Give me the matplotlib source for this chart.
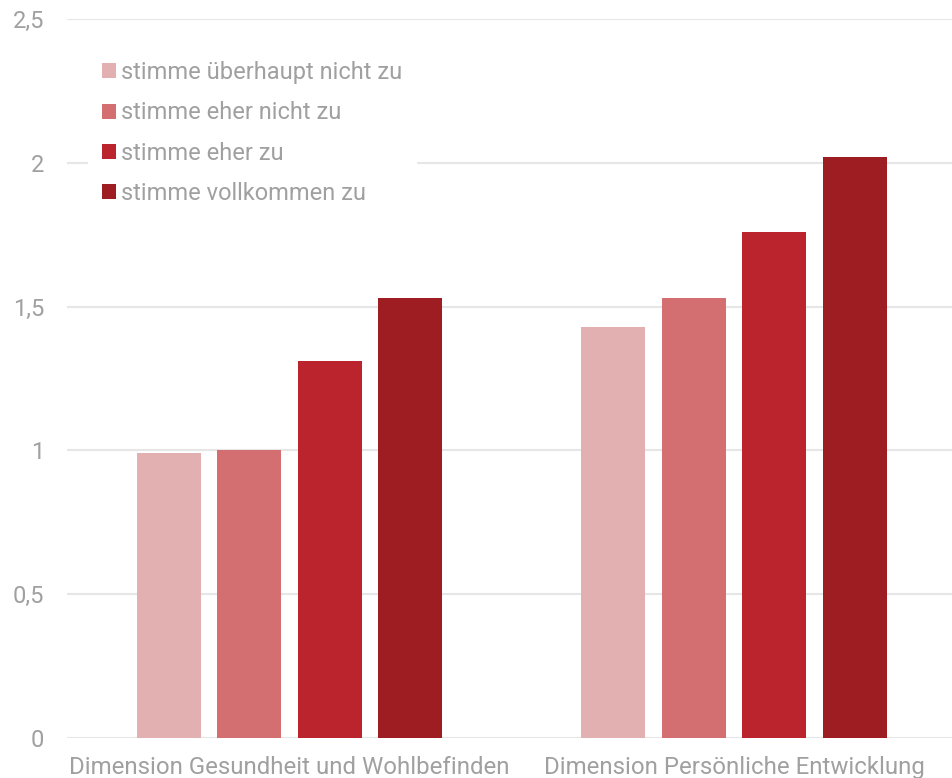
import matplotlib
matplotlib.use("Agg")
import matplotlib.pyplot as plt
from matplotlib.patches import Patch
import numpy as np

plt.rcParams['font.family'] = ['Roboto', 'DejaVu Sans']

# Mean scores per dimension and answer group
categories = ['Dimension Gesundheit und Wohlbefinden', 'Dimension Persönliche Entwicklung']
series_names = ['stimme überhaupt nicht zu', 'stimme eher nicht zu',
                'stimme eher zu', 'stimme vollkommen zu']
values = [
    [0.99, 1.43],
    [1.00, 1.53],
    [1.31, 1.76],
    [1.53, 2.02],
]
yticks = [0, 0.5, 1, 1.5, 2, 2.5]
ytick_labels = ['0', '0,5', '1', '1,5', '2', '2,5']

colors = ['#E2B0B1', '#D36F70', '#BB242C', '#9E1D22']
grey = '#a0a0a0'

fig = plt.figure(figsize=(9.52, 7.78), dpi=100)
ax = fig.add_axes([0.0704, 0.0514, 0.9296, 0.9242])

x = np.arange(len(categories))
step = 0.181
width = 0.144
for i, (name, vals) in enumerate(zip(series_names, values)):
    ax.bar(x + (i - 1.5) * step, vals, width, color=colors[i], label=name, zorder=3)

ax.set_xlim(-0.5, 1.49)
ax.set_ylim(0, 2.5)
ax.set_yticks(yticks)
ax.set_yticklabels(ytick_labels)
ax.set_xticks(x)
ax.set_xticklabels(categories)
ax.grid(axis='y', color='#e6e6e6', linewidth=1.5, zorder=0)
for s in ax.spines.values():
    s.set_visible(False)
ax.tick_params(axis='both', length=0, labelsize=17, labelcolor=grey)
ax.tick_params(axis='x', labelsize=17.3, pad=13)
ax.tick_params(axis='y', pad=16.5)

handles = [Patch(facecolor=c, edgecolor='none') for c in colors]
leg = ax.legend(handles, series_names, loc='upper left',
                bbox_to_anchor=(88 / 952, 1 - 47 / 778), bbox_transform=fig.transFigure,
                fontsize=17, frameon=True, fancybox=False, framealpha=1,
                edgecolor='white', facecolor='white',
                handlelength=0.6, handleheight=0.6, handletextpad=0.2,
                labelspacing=0.73, borderpad=0.6, borderaxespad=0)
for t in leg.get_texts():
    t.set_color(grey)
leg.set_zorder(5)

fig.savefig('out.png', dpi=100)
